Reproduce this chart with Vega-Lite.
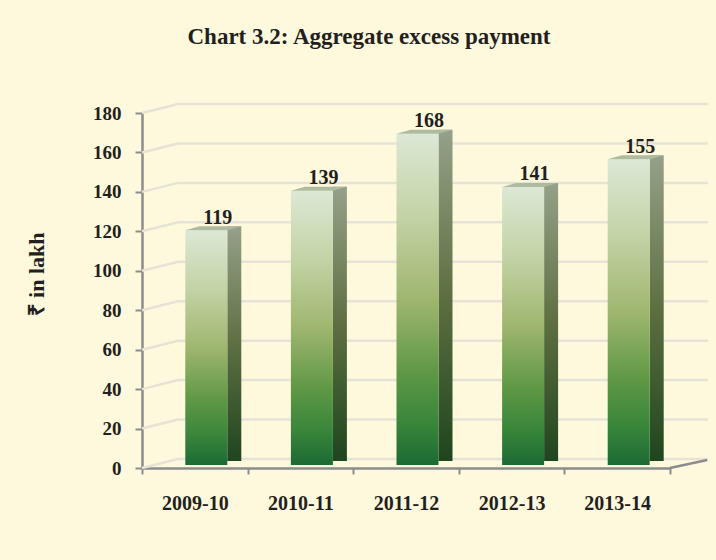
{
  "$schema": "https://vega.github.io/schema/vega-lite/v6.json",
  "width": 528,
  "height": 355,
  "autosize": {"type": "none"},
  "padding": {"left": 142, "top": 113, "right": 46, "bottom": 92},
  "background": "#fef9dc",
  "view": {"stroke": null},
  "title": {
    "text": "Chart 3.2: Aggregate excess payment",
    "font": "Liberation Serif",
    "fontSize": 23,
    "fontWeight": "bold",
    "color": "#231f20",
    "anchor": "middle",
    "dx": -37,
    "offset": 50
  },
  "datasets": {
    "bars": [
      {"year": "2009-10", "value": 119},
      {"year": "2010-11", "value": 139},
      {"year": "2011-12", "value": 168},
      {"year": "2012-13", "value": 141},
      {"year": "2013-14", "value": 155}
    ],
    "ticks": [
      {"v": 0}, {"v": 20}, {"v": 40}, {"v": 60}, {"v": 80},
      {"v": 100}, {"v": 120}, {"v": 140}, {"v": 160}, {"v": 180}
    ]
  },
  "data": {"name": "bars"},
  "encoding": {
    "x": {
      "field": "year",
      "type": "nominal",
      "sort": null,
      "scale": {
        "domain": ["2009-10", "2010-11", "2011-12", "2012-13", "2013-14"],
        "paddingInner": 0,
        "paddingOuter": 0
      },
      "axis": {
        "title": null,
        "labelAngle": 0,
        "labelFont": "Liberation Serif",
        "labelFontSize": 20,
        "labelFontWeight": "bold",
        "labelColor": "#231f20",
        "labelPadding": 19,
        "domainColor": "#8c8c8c",
        "domainWidth": 2.5,
        "tickColor": "#8c8c8c",
        "tickWidth": 2,
        "tickSize": 6,
        "tickBand": "extent",
        "grid": false
      }
    },
    "y": {
      "field": "value",
      "type": "quantitative",
      "scale": {"domain": [0, 180], "nice": false},
      "axis": {
        "values": [0, 20, 40, 60, 80, 100, 120, 140, 160, 180],
        "grid": false,
        "title": "₹ in lakh",
        "titleFont": "Liberation Serif",
        "titleFontSize": 22,
        "titleFontWeight": "bold",
        "titleColor": "#231f20",
        "titleX": -106,
        "titleY": 161,
        "titleAlign": "center",
        "titleBaseline": "middle",
        "titleAngle": -90,
        "labelFont": "Liberation Serif",
        "labelFontSize": 19,
        "labelFontWeight": "bold",
        "labelColor": "#231f20",
        "labelPadding": 14,
        "domainColor": "#8c8c8c",
        "domainWidth": 2.5,
        "tickColor": "#8c8c8c",
        "tickWidth": 2,
        "tickSize": 7
      }
    }
  },
  "layer": [
    {
      "data": {"name": "ticks"},
      "mark": {
        "type": "point",
        "shape": "M -52.8 0 L -16.8 -9 L 513 -9",
        "size": 4,
        "filled": false,
        "stroke": "#e6e3d6",
        "strokeWidth": 2.5,
        "opacity": 1
      },
      "encoding": {
        "x": {"datum": "2009-10", "type": "nominal"},
        "y": {"field": "v", "type": "quantitative"}
      }
    },
    {
      "data": {"name": "ticks"},
      "transform": [{"filter": "datum.v === 0"}],
      "mark": {
        "type": "point",
        "shape": "M 52.8 0 L 90 -8",
        "size": 4,
        "filled": false,
        "stroke": "#8c8c8c",
        "strokeWidth": 2.5,
        "opacity": 1
      },
      "encoding": {
        "x": {"datum": "2013-14", "type": "nominal"},
        "y": {"field": "v", "type": "quantitative"}
      }
    },
    {
      "mark": {
        "type": "bar",
        "width": 14,
        "xOffset": 39.5,
        "yOffset": -7,
        "y2Offset": -3,
        "fill": {
          "gradient": "linear",
          "x1": 0, "y1": 0, "x2": 0, "y2": 1,
          "stops": [
            {"offset": 0, "color": "#95a189"},
            {"offset": 0.5, "color": "#5e6f42"},
            {"offset": 1, "color": "#1f451f"}
          ]
        }
      }
    },
    {
      "mark": {
        "type": "point",
        "shape": "M 32.5 -3 L 46.5 -7 L 46.5 -2 Z",
        "size": 4,
        "filled": true,
        "fill": "#fef9dc",
        "stroke": null,
        "opacity": 1
      },
      "encoding": {
        "y": {"datum": 0, "type": "quantitative"}
      }
    },
    {
      "mark": {
        "type": "bar",
        "width": 42,
        "xOffset": 11.5,
        "yOffset": -3,
        "y2Offset": -3,
        "fill": {
          "gradient": "linear",
          "x1": 0, "y1": 0, "x2": 0, "y2": 1,
          "stops": [
            {"offset": 0, "color": "#dce8d5"},
            {"offset": 0.25, "color": "#c3d3a6"},
            {"offset": 0.5, "color": "#9fb66f"},
            {"offset": 0.72, "color": "#5f9845"},
            {"offset": 0.87, "color": "#3a863b"},
            {"offset": 1, "color": "#1c6a35"}
          ]
        }
      }
    },
    {
      "mark": {
        "type": "point",
        "shape": "M -9.5 0 L 32.5 0 L 46.5 -4 L 4.5 -4 Z",
        "size": 4,
        "filled": true,
        "fill": "#aebb9f",
        "stroke": null,
        "opacity": 1,
        "yOffset": -3
      }
    },
    {
      "mark": {
        "type": "text",
        "font": "Liberation Serif",
        "fontSize": 20,
        "fontWeight": "bold",
        "color": "#231f20",
        "baseline": "alphabetic",
        "align": "center",
        "xOffset": 23,
        "yOffset": -9.5
      },
      "encoding": {
        "text": {"field": "value", "type": "quantitative"}
      }
    }
  ]
}
